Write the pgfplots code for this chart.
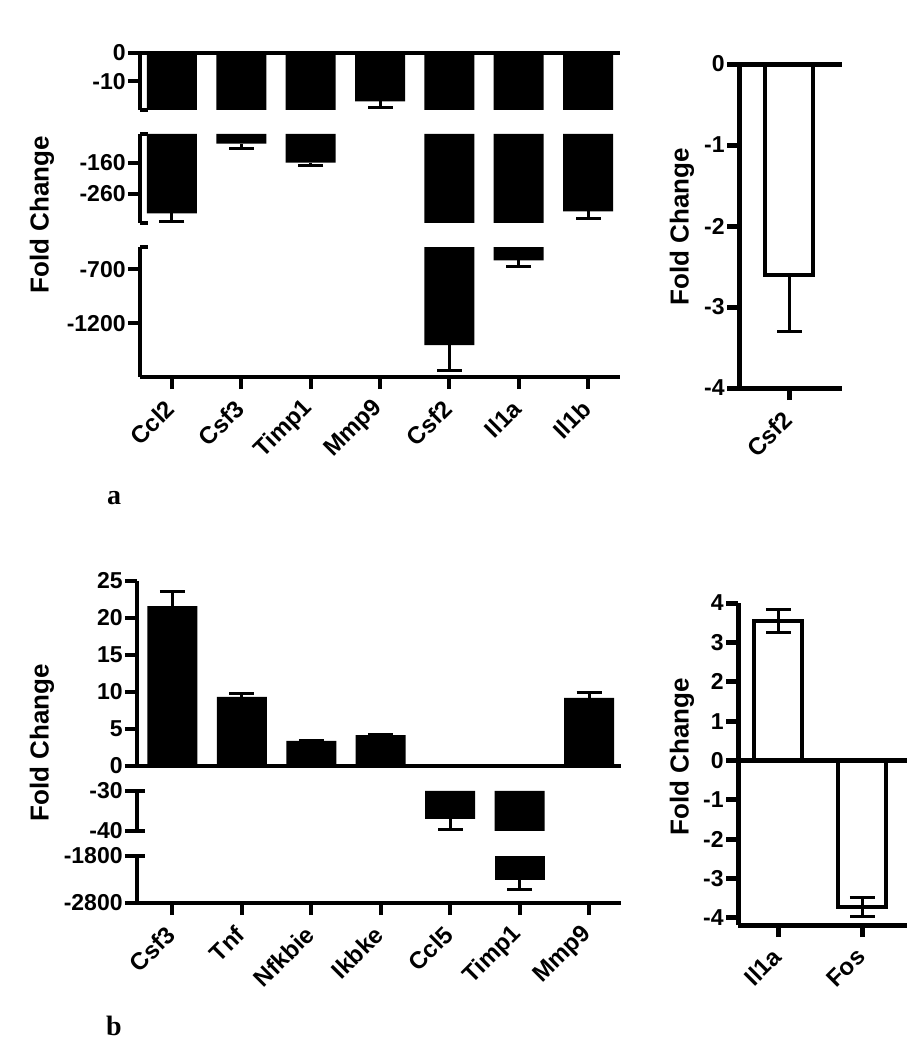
\documentclass[border=0pt]{standalone}
\usepackage{pgfplots}
\usepackage{pgfplotstable}
\pgfplotsset{compat=1.18}
\usepackage{fontspec}
\setmainfont{Liberation Sans}
\newfontfamily\serifb{Liberation Serif}

% panel a, left: fold changes (all negative), one-sided error
\pgfplotstableread{
x y err
0 -325 27
1 -97 17
2 -159 9
3 -17 2
4 -1400 238
5 -620 52
6 -318 22
}\dataA
% panel a, right
\pgfplotstableread{
x y err
0 -2.61 0.69
}\dataAr
% panel b, left: up-regulated
\pgfplotstableread{
x y err
0 21.6 2.0
1 9.35 0.45
2 3.41 0.05
3 4.18 0.12
6 9.22 0.73
}\dataBpos
% panel b, left: down-regulated
\pgfplotstableread{
x y err
4 -37 2.6
5 -2310 210
}\dataBneg
% panel b, right
\pgfplotstableread{
x y ep em
0 3.54 0.29 0.30
1 -3.72 0.24 0.24
}\dataBr

\tikzset{brkln/.style={line width=2pt}}
\pgfplotsset{
  base/.style={
    scale only axis, ybar, bar shift=0pt, anchor=north west,
    axis y line*=left,
    axis line style={-, line width=2pt},
    tick style={line width=2pt, black},
    major tick length=6pt, tick align=outside,
    yticklabel style={font=\bfseries\fontsize{11.5}{13}\selectfont, inner sep=1pt},
    xticklabel style={font=\bfseries\fontsize{12}{14}\selectfont, rotate=45, anchor=east, inner sep=1pt},
    xticklabel shift=7pt,
    /pgf/number format/assume math mode=true,
    /pgf/number format/1000 sep={},
    scaled y ticks=false,
    clip mode=individual,
    error bars/error mark=|,
    error bars/error bar style={line width=1.5pt},
    error bars/error mark options={line width=1.5pt, mark size=6.25pt},
  },
  seg/.style={base, axis x line=none, xtick=\empty},
  bot/.style={base, axis x line*=bottom, xtick={0,...,6}},
  blk/.style={fill=black, draw=none, bar width=25pt},
  opn/.style={fill=white, draw=black, line width=2pt, bar width=24pt},
}

\begin{document}
\begin{tikzpicture}
\useasboundingbox (0pt,0pt) rectangle (460.5pt,-525pt);

% ---------- panel a, left ----------
\begin{axis}[seg, at={(70pt,-26.5pt)}, width=240pt, height=28.5pt,
  xmin=-0.46, xmax=6.46, ymin=-20, ymax=0, ytick={0,-10}]
  \addplot[blk, restrict y to domain*=-25:0, error bars/.cd, y dir=minus, y explicit] table[x=x, y=y, y error=err] {\dataA};
  \draw[brkln] (rel axis cs:0,1) -- (rel axis cs:1,1);
  \draw[brkln] (rel axis cs:0,0) -- ([xshift=4pt]rel axis cs:0,0);
\end{axis}
\begin{axis}[seg, at={(70pt,-67pt)}, width=240pt, height=44.5pt,
  xmin=-0.46, xmax=6.46, ymin=-356, ymax=-66, ytick={-160,-260}]
  \addplot[blk, restrict y to domain=-3000:-66, error bars/.cd, y dir=minus, y explicit] table[x=x, y=y, y error=err] {\dataA};
  \draw[brkln] (rel axis cs:0,0) -- ([xshift=4pt]rel axis cs:0,0);
  \draw[brkln] (rel axis cs:0,1) -- ([xshift=4pt]rel axis cs:0,1);
\end{axis}
\begin{axis}[bot, at={(70pt,-123.5pt)}, width=240pt, height=65pt,
  xmin=-0.46, xmax=6.46, ymin=-1694, ymax=-496, ytick={-700,-1200},
  xticklabels={Ccl2,Csf3,Timp1,Mmp9,Csf2,Il1a,Il1b}]
  \addplot[blk, restrict y to domain=-3000:-496, error bars/.cd, y dir=minus, y explicit] table[x=x, y=y, y error=err] {\dataA};
  \draw[brkln] (rel axis cs:0,1) -- ([xshift=4pt]rel axis cs:0,1);
\end{axis}

% ---------- panel a, right ----------
\begin{axis}[bot, at={(369.5pt,-32pt)}, width=51.5pt, height=162pt,
  axis line style={-, line width=2.5pt}, tick style={line width=2.5pt, black},
  xmin=-1, xmax=1.04, ymin=-4, ymax=0, ytick={-4,-3,-2,-1,0},
  xtick={0}, xticklabels={Csf2}]
  \addplot[opn, error bars/.cd, y dir=minus, y explicit] table[x=x, y=y, y error=err] {\dataAr};
  \draw[line width=2.5pt] (rel axis cs:0,1) -- (rel axis cs:1,1);
\end{axis}

% ---------- panel b, left ----------
\begin{axis}[seg, at={(68.5pt,-290.5pt)}, width=242pt, height=92.5pt,
  xmin=-0.51, xmax=6.46, ymin=0, ymax=25, ytick={0,5,...,25}]
  \addplot[blk, error bars/.cd, y dir=plus, y explicit] table[x=x, y=y, y error=err] {\dataBpos};
  \draw[brkln] (rel axis cs:0,0) -- (rel axis cs:1,0);
\end{axis}
\begin{axis}[seg, at={(68.5pt,-395.5pt)}, width=242pt, height=20pt,
  xmin=-0.51, xmax=6.46, ymin=-40, ymax=-30, ytick={-30,-40}]
  \addplot[blk, restrict y to domain*=-45:0, error bars/.cd, y dir=minus, y explicit] table[x=x, y=y, y error=err] {\dataBneg};
  \draw[brkln] (rel axis cs:0,0) -- ([xshift=4pt]rel axis cs:0,0);
  \draw[brkln] (rel axis cs:0,1) -- ([xshift=4pt]rel axis cs:0,1);
\end{axis}
\begin{axis}[bot, at={(68.5pt,-428pt)}, width=242pt, height=23.5pt,
  xmin=-0.51, xmax=6.46, ymin=-2800, ymax=-1800, ytick={-1800,-2800},
  xticklabels={Csf3,Tnf,Nfkbie,Ikbke,Ccl5,Timp1,Mmp9}]
  \addplot[blk, restrict y to domain=-5000:-1800, error bars/.cd, y dir=minus, y explicit] table[x=x, y=y, y error=err] {\dataBneg};
  \draw[brkln] (rel axis cs:0,1) -- ([xshift=4pt]rel axis cs:0,1);
\end{axis}

% ---------- panel b, right ----------
\begin{axis}[bot, at={(369pt,-301.5pt)}, width=84.5pt, height=161pt,
  axis line style={-, line width=2.5pt}, tick style={line width=2.5pt, black},
  xmin=-0.48, xmax=1.53, ymin=-4.18, ymax=4, ytick={-4,...,4},
  xtick={0,1}, xticklabels={Il1a,Fos}]
  \addplot[opn, error bars/.cd, y dir=both, y explicit] table[x=x, y=y, y error plus=ep, y error minus=em] {\dataBr};
  \draw[line width=2.5pt] (axis cs:-0.48,0) -- (axis cs:1.53,0);
\end{axis}

% axis titles and panel letters
\node[rotate=90, font=\bfseries\fontsize{13}{15}\selectfont] at (21pt,-107.5pt) {Fold Change};
\node[rotate=90, font=\bfseries\fontsize{13}{15}\selectfont] at (341pt,-113.5pt) {Fold Change};
\node[rotate=90, font=\bfseries\fontsize{13}{15}\selectfont] at (21pt,-371.5pt) {Fold Change};
\node[rotate=90, font=\bfseries\fontsize{13}{15}\selectfont] at (341pt,-378.5pt) {Fold Change};
\node[font=\serifb\bfseries\fontsize{14}{16}\selectfont] at (57pt,-249pt) {a};
\node[font=\serifb\bfseries\fontsize{14}{16}\selectfont] at (57pt,-513pt) {b};
\end{tikzpicture}
\end{document}
